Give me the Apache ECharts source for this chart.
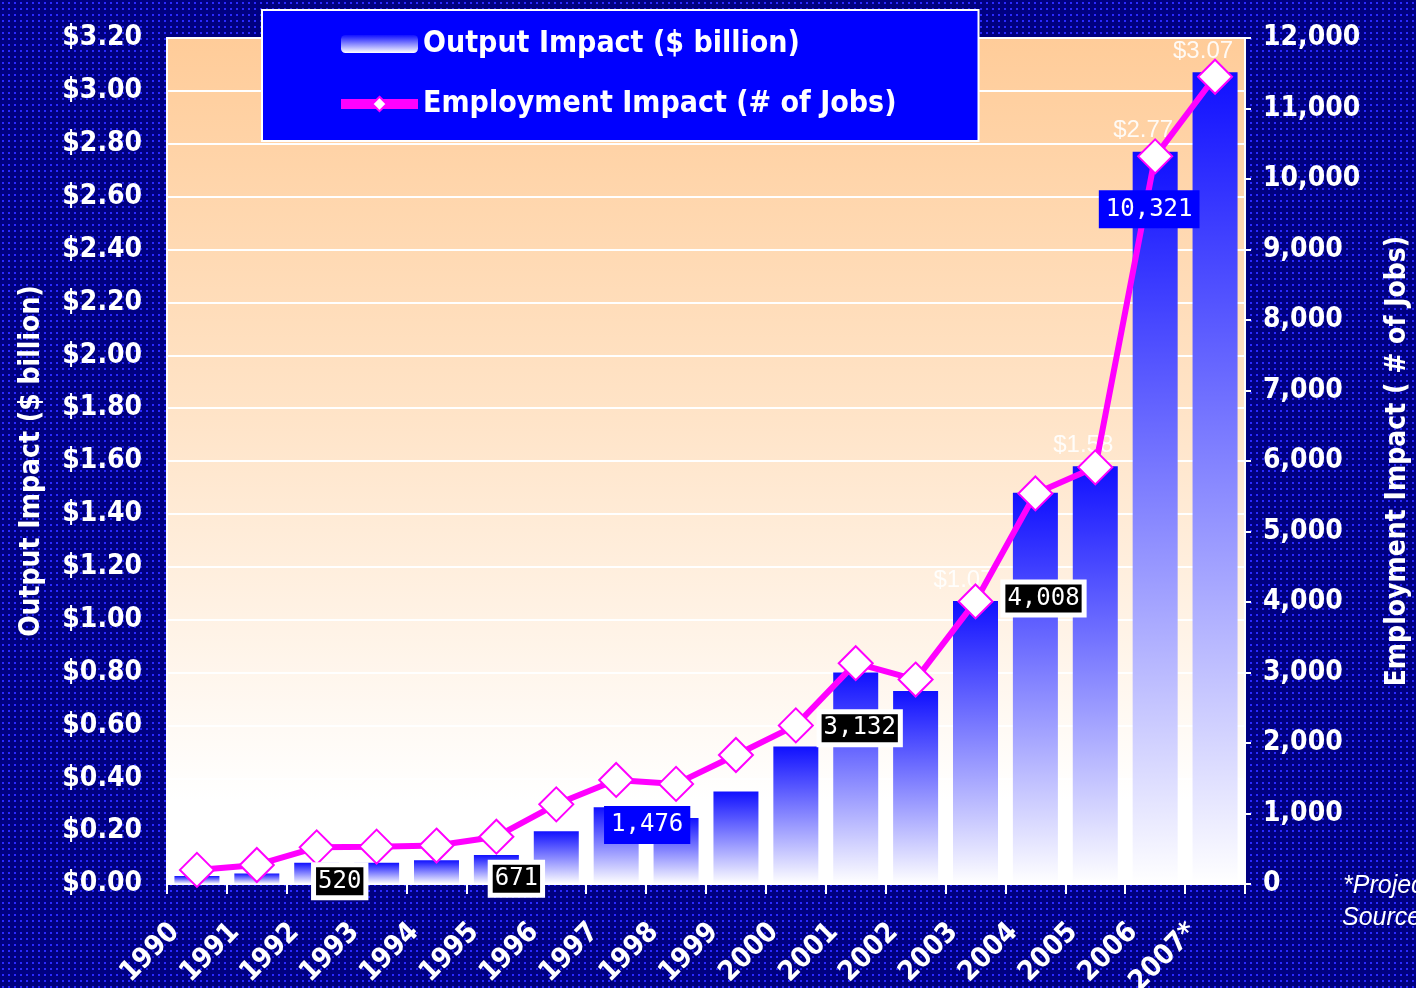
<!DOCTYPE html>
<html>
<head>
<meta charset="utf-8">
<script src="https://cdn.jsdelivr.net/npm/echarts@6/dist/echarts.min.js"></script>
<style>
  html, body { margin: 0; padding: 0; }
  body {
    width: 1416px; height: 988px; overflow: hidden;
    background: radial-gradient(circle, #2a2aff 0.9px, transparent 1.4px) 0 0 / 6px 6px, #000080;
  }
  #chart { width: 1416px; height: 988px; }
</style>
</head>
<body>
<div id="chart"></div>
<script>
const years = ["1990", "1991", "1992", "1993", "1994", "1995", "1996", "1997", "1998",
  "1999", "2000", "2001", "2002", "2003", "2004", "2005", "2006", "2007*"];
const outputImpact = [0.03, 0.04, 0.08, 0.08, 0.09, 0.11, 0.20, 0.29, 0.25,
  0.35, 0.52, 0.80, 0.73, 1.07, 1.48, 1.58, 2.77, 3.07];
const jobs = [200, 270, 520, 530, 545, 671, 1130, 1476, 1420,
  1830, 2250, 3132, 2900, 4008, 5540, 5910, 10321, 11450];
const dollarTicks = { min: 0, max: 3.2, step: 0.2 };
const jobTicks = { min: 0, max: 12000, step: 1000 };

// which points get a boxed label, and how it's drawn
const darkBox = { backgroundColor: "#000", borderColor: "#fff", borderWidth: 5, color: "#fff" };
const blueBox = { backgroundColor: "#0000ff", borderColor: "#0000ff", borderWidth: 5, color: "#fff" };
const jobLabelStyle = {
  2: [darkBox, [23, 34]],
  5: [darkBox, [20, 42]],
  7: [blueBox, [31, 45]],
  11: [darkBox, [4, 65]],
  13: [darkBox, [68, -3]],
  16: [blueBox, [-6, 53]],
};
const shownBarLabels = [13, 15, 16, 17];

const fmt = (v) => v.toLocaleString("en-US");
const boldFont = "'Liberation Sans Narrow', 'DejaVu Sans Condensed', sans-serif";

const chart = echarts.init(document.getElementById("chart"));

const barData = outputImpact.map((v, i) => ({
  value: v,
  label: {
    show: shownBarLabels.includes(i),
    position: "top",
    offset: [-12, -4],
    formatter: (p) => "$" + p.value.toFixed(2),
    color: "rgba(255,255,255,0.9)",
    fontSize: 24,
    fontFamily: "Liberation Sans, sans-serif",
  },
}));

const lineData = jobs.map((v, i) => {
  const s = jobLabelStyle[i];
  if (!s) return { value: v };
  return {
    value: v,
    label: {
      show: true,
      position: "inside",
      offset: s[1],
      formatter: (p) => fmt(p.value),
      fontFamily: "'DejaVu Sans Mono', monospace",
      fontSize: 24,
      padding: [3, 2, 1, 2],
      ...s[0],
    },
  };
});

chart.setOption({
  animation: false,
  backgroundColor: "transparent",
  legend: {
    orient: "vertical",
    left: 262,
    top: 10,
    padding: [19, 82, 22, 74],
    itemGap: 30,
    itemWidth: 77,
    itemHeight: 18,
    backgroundColor: "#0000ff",
    borderColor: "#fff",
    borderWidth: 2,
    borderRadius: 0,
    textStyle: { color: "#fff", fontSize: 30, fontWeight: "bold", fontFamily: boldFont },
    data: [
      { name: "Output Impact ($ billion)" },
      { name: "Employment Impact (# of Jobs)", lineStyle: { width: 10 } },
    ],
  },
  grid: {
    left: 167, right: 171, top: 38, bottom: 104,
    outerBoundsMode: "none",
    containLabel: false,
    show: true,
    borderColor: "#fff",
    borderWidth: 2,
    backgroundColor: new echarts.graphic.LinearGradient(0, 0, 0, 1, [
      { offset: 0, color: "#ffcc99" },
      { offset: 0.45, color: "#ffe4c8" },
      { offset: 0.9, color: "#ffffff" },
      { offset: 1, color: "#ffffff" },
    ]),
  },
  xAxis: {
    type: "category",
    data: years,
    axisLine: { lineStyle: { color: "#fff", width: 2 } },
    axisTick: { show: true, length: 10, lineStyle: { color: "#fff", width: 2 } },
    axisLabel: {
      rotate: 45,
      interval: 0,
      margin: 22,
      padding: [0, 31, 0, 0],
      color: "#fff",
      fontSize: 28,
      fontWeight: "bold",
      fontFamily: boldFont,
    },
  },
  yAxis: [
    {
      type: "value",
      min: dollarTicks.min,
      max: dollarTicks.max,
      interval: dollarTicks.step,
      name: "Output Impact ($ billion)",
      nameLocation: "middle",
      nameRotate: 90,
      nameGap: 121,
      nameTextStyle: { color: "#fff", fontSize: 28, fontWeight: "bold", fontFamily: boldFont },
      axisLine: { show: true, lineStyle: { color: "#fff", width: 2 } },
      axisTick: { show: false },
      splitLine: { lineStyle: { color: "#fff", width: 2 } },
      axisLabel: {
        margin: 25,
        color: "#fff",
        fontSize: 28,
        fontWeight: "bold",
        fontFamily: boldFont,
        formatter: (v) => "$" + v.toFixed(2),
      },
    },
    {
      type: "value",
      min: jobTicks.min,
      max: jobTicks.max,
      interval: jobTicks.step,
      name: "Employment Impact ( # of Jobs)",
      nameLocation: "middle",
      nameRotate: 90,
      nameGap: 139,
      nameTextStyle: { color: "#fff", fontSize: 28, fontWeight: "bold", fontFamily: boldFont },
      axisLine: { show: true, lineStyle: { color: "#fff", width: 2 } },
      axisTick: { show: true, length: 6, lineStyle: { color: "#fff", width: 2 } },
      splitLine: { show: false },
      axisLabel: {
        margin: 18,
        color: "#fff",
        fontSize: 28,
        fontWeight: "bold",
        fontFamily: boldFont,
        formatter: fmt,
      },
    },
  ],
  series: [
    {
      name: "Output Impact ($ billion)",
      type: "bar",
      yAxisIndex: 0,
      barWidth: 45,
      itemStyle: {
        color: new echarts.graphic.LinearGradient(0, 0, 0, 1, [
          { offset: 0, color: "#1010ff" },
          { offset: 1, color: "#ffffff" },
        ]),
      },
      data: barData,
      z: 2,
    },
    {
      name: "Employment Impact (# of Jobs)",
      type: "line",
      yAxisIndex: 1,
      symbol: "diamond",
      symbolSize: [34, 34],
      lineStyle: { color: "#ff00ff", width: 6 },
      itemStyle: { color: "#fff", borderColor: "#ff00ff", borderWidth: 2 },
      data: lineData,
      z: 5,
    },
  ],
  graphic: [
    {
      type: "text", left: 1343, top: 874,
      style: { text: "*Projected", fill: "#fff", font: "italic 25px 'Liberation Sans', sans-serif" },
    },
    {
      type: "text", left: 1342, top: 906,
      style: { text: "Source:", fill: "#fff", font: "italic 25px 'Liberation Sans', sans-serif" },
    },
  ],
});
</script>
</body>
</html>
